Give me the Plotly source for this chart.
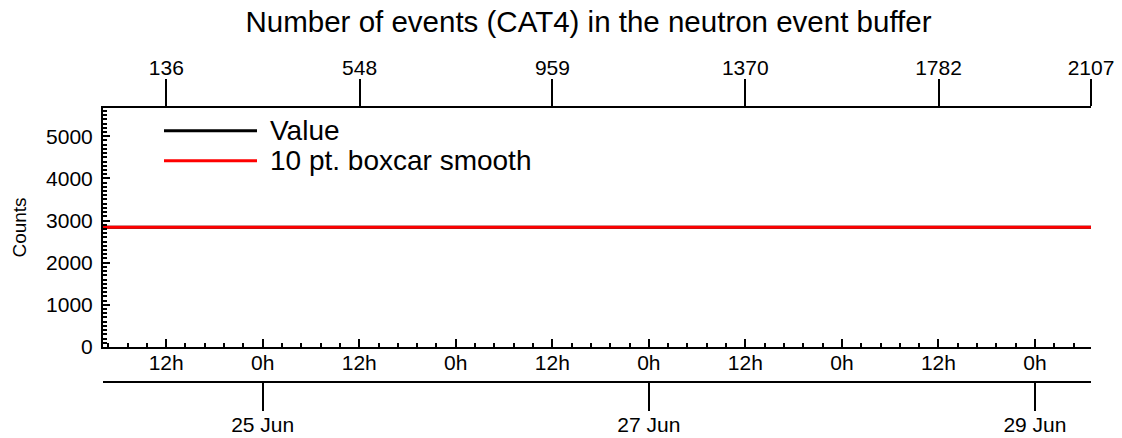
import plotly.graph_objects as go

# ---- data ----
times = ["2022-06-24 04:09", "2022-06-25 00:00", "2022-06-26 00:00", "2022-06-27 00:00",
         "2022-06-28 00:00", "2022-06-29 00:00", "2022-06-29 06:58"]
values = [2840, 2840, 2840, 2840, 2840, 2840, 2840]
smooth = [2840, 2840, 2840, 2840, 2840, 2840, 2840]

hour_ticks = ["2022-06-24 12:00", "2022-06-25 00:00", "2022-06-25 12:00", "2022-06-26 00:00",
              "2022-06-26 12:00", "2022-06-27 00:00", "2022-06-27 12:00", "2022-06-28 00:00",
              "2022-06-28 12:00", "2022-06-29 00:00"]
hour_labels = ["12h", "0h", "12h", "0h", "12h", "0h", "12h", "0h", "12h", "0h"]
date_ticks = ["2022-06-25 00:00", "2022-06-27 00:00", "2022-06-29 00:00"]
date_labels = ["25 Jun", "27 Jun", "29 Jun"]
record_ticks = [136, 548, 959, 1370, 1782, 2107]
record_labels = ["136", "548", "959", "1370", "1782", "2107"]
record_range = [1, 2107]
time_range = ["2022-06-24 04:09", "2022-06-29 06:58"]
y_range = [0, 5670]

FONT = "Liberation Sans, Arial, sans-serif"

fig = go.Figure()
# invisible carrier trace so the top record-number axis gets drawn
fig.add_trace(go.Scatter(x=record_range, y=[smooth[0], smooth[-1]], xaxis="x2", yaxis="y",
                         mode="lines", line=dict(width=0), opacity=0,
                         hoverinfo="skip", showlegend=False))
fig.add_trace(go.Scatter(x=times, y=values, mode="lines", name="Value", xaxis="x", yaxis="y",
                         line=dict(color="black", width=3), showlegend=False))
fig.add_trace(go.Scatter(x=times, y=smooth, mode="lines", name="10 pt. boxcar smooth",
                         xaxis="x3", yaxis="y",
                         line=dict(color="#ff0000", width=3), showlegend=False))

# Plot area: x 103..1091, y 108..347 ; paper bottom at 428 (b=10)
PB, PH = 428.0, 320.0
def py(p):
    return (PB - p) / PH
def px(p):
    return (p - 103.0) / 988.0

tf = dict(size=21, family=FONT, color="black")

fig.update_layout(
    width=1122, height=438,
    margin=dict(l=103, r=31, t=108, b=10, autoexpand=False),
    paper_bgcolor="white", plot_bgcolor="white",
    font=dict(family=FONT, color="black", size=21),
    title=dict(text="Number of events (CAT4) in the neutron event buffer",
               x=px(588.5), xref="paper", xanchor="center",
               y=1 - 22 / 438, yref="container", yanchor="middle",
               font=dict(size=29.5, family=FONT, color="black")),
    xaxis=dict(type="date", range=time_range, showgrid=False, zeroline=False,
               showline=True, linecolor="black", linewidth=2, automargin=False,
               tickmode="array", tickvals=hour_ticks, ticktext=hour_labels,
               ticks="inside", ticklen=8, tickwidth=2, tickcolor="black",
               ticklabelstandoff=-4, tickfont=tf,
               minor=dict(tickmode="linear", tick0="2022-06-24 12:00", dtick=8640000,
                          ticks="inside", ticklen=4, tickwidth=2, tickcolor="black",
                          showgrid=False),
               anchor="y"),
    xaxis2=dict(type="linear", range=record_range, overlaying="x", side="top", anchor="y",
                showgrid=False, zeroline=False, showline=True, linecolor="black", linewidth=2,
                automargin=False,
                tickmode="array", tickvals=record_ticks, ticktext=record_labels,
                ticks="outside", ticklen=27, tickwidth=2, tickcolor="black",
                ticklabelstandoff=-4, tickfont=tf),
    xaxis3=dict(type="date", range=time_range, overlaying="x", side="bottom",
                anchor="free", position=py(382), automargin=False,
                showgrid=False, zeroline=False, showline=True, linecolor="black", linewidth=2,
                tickmode="array", tickvals=date_ticks, ticktext=date_labels,
                ticks="outside", ticklen=28, tickwidth=2, tickcolor="black",
                ticklabelstandoff=-4, tickfont=tf),
    yaxis=dict(range=y_range, domain=[py(347), 1], showgrid=False, zeroline=False,
               showline=True, linecolor="black", linewidth=2, automargin=False,
               tickmode="array", tickvals=[0, 1000, 2000, 3000, 4000, 5000],
               ticks="inside", ticklen=7, tickwidth=2, tickcolor="black",
               ticklabelstandoff=4, tickfont=tf,
               minor=dict(tickmode="linear", tick0=0, dtick=100, ticks="inside",
                          ticklen=4, tickwidth=2, tickcolor="black", showgrid=False),
               title=dict(text="Counts", standoff=14,
                          font=dict(size=19, family=FONT, color="black"))),
)

# Manual legend (long line samples)
legend_items = [("Value", "black", 130.7), ("10 pt. boxcar smooth", "#ff0000", 160.7)]
for name, col, yy in legend_items:
    fig.add_shape(type="line", xref="paper", yref="paper",
                  x0=px(164), x1=px(257), y0=py(yy), y1=py(yy),
                  line=dict(color=col, width=3))
    fig.add_annotation(text=name, xref="paper", yref="paper", x=px(268), y=py(yy),
                       xanchor="left", yanchor="middle", showarrow=False,
                       font=dict(size=28, family=FONT, color="black"))

fig.write_html("out.html", config={"displayModeBar": False},
               post_script="document.body.style.margin='0';document.body.style.overflow='hidden';")
